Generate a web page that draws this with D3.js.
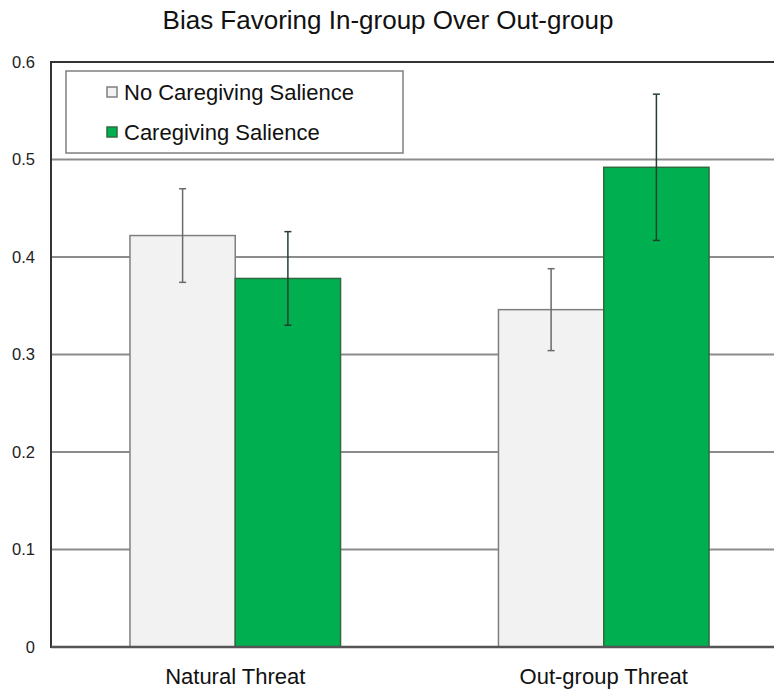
<!DOCTYPE html>
<html>
<head>
<meta charset="utf-8">
<script src="https://cdn.jsdelivr.net/npm/d3@7"></script>
<style>
  body { margin: 0; background: #fff; }
  svg { display: block; font-family: "Liberation Sans", Arial, sans-serif; }
</style>
</head>
<body>
<div id="chartwrap"></div>
<script>
const WIDTH = 774;
const HEIGHT = 690;

const categories = ['Natural Threat', 'Out-group Threat'];
const groups = ['No Caregiving Salience', 'Caregiving Salience'];
const noCare = [0.422, 0.346];
const noCareErr = [0.048, 0.042];
const care = [0.378, 0.492];
const careErr = [0.048, 0.075];
const yTicks = [0, 0.1, 0.2, 0.3, 0.4, 0.5, 0.6];

const fills = ['#f2f2f2', '#00b050'];
const strokes = ['#7f7f7f', '#2f6b3f'];

const chart = { left: 51, right: 788, top: 62, bottom: 647 };

const data = categories.map((c, i) => ({
  cat: c,
  vals: [
    { g: groups[0], v: noCare[i], e: noCareErr[i] },
    { g: groups[1], v: care[i], e: careErr[i] }
  ]
}));

const xScale = d3.scaleBand()
  .domain(categories)
  .range([chart.left, chart.right])

const xInner = d3.scaleBand()
  .domain(groups)
  .range([0, xScale.bandwidth()])
  .paddingOuter(0.75)

const yScale = d3.scaleLinear()
  .domain([0, 0.6])
  .range([chart.bottom, chart.top])

const svg = d3.select('#chartwrap')
  .append('svg')
  .attr('width', WIDTH)
  .attr('height', HEIGHT)

// title
svg.append('text')
  .attr('x', 388)
  .attr('y', 29)
  .attr('text-anchor', 'middle')
  .attr('font-size', 26)
  .attr('fill', '#111')
  .text('Bias Favoring In-group Over Out-group')

// gridlines
svg.append('g')
  .selectAll('line')
  .data(yTicks.filter(d => d > 0 && d < 0.6))
  .enter()
  .append('line')
  .attr('x1', chart.left)
  .attr('x2', chart.right)
  .attr('y1', d => yScale(d))
  .attr('y2', d => yScale(d))
  .attr('stroke', '#8c8c8c')
  .attr('stroke-width', 2)

// frame
svg.append('rect')
  .attr('x', chart.left)
  .attr('y', chart.top)
  .attr('width', chart.right - chart.left)
  .attr('height', chart.bottom - chart.top)
  .attr('fill', 'none')
  .attr('stroke', '#333')
  .attr('stroke-width', 2)

const yAxis = d3.axisLeft(yScale)
  .tickValues(yTicks)
  .tickFormat(d => d === 0 ? '0' : d3.format('.1f')(d))
  .tickSize(0)
  .tickPadding(16)

svg.append('g')
  .attr('id', 'y-axis')
  .attr('transform', `translate(${chart.left},0)`)
  .call(yAxis)
  .call(g => g.select('.domain').remove())
  .call(g => g.selectAll('text')
    .attr('font-size', 16.5)
    .attr('fill', '#222')
    .attr('font-family', '"Liberation Sans", Arial, sans-serif'))

// bars
const cat = svg.selectAll('.cat')
  .data(data)
  .enter()
  .append('g')
  .attr('class', 'cat')
  .attr('transform', d => `translate(${xScale(d.cat)},0)`)

cat.selectAll('rect')
  .data(d => d.vals)
  .enter()
  .append('rect')
  .attr('x', d => xInner(d.g))
  .attr('width', xInner.bandwidth())
  .attr('y', d => yScale(d.v))
  .attr('height', d => yScale(0) - yScale(d.v))
  .attr('fill', (d, i) => fills[i])
  .attr('stroke', (d, i) => strokes[i])
  .attr('stroke-width', 1.5)

// error bars
const err = cat.selectAll('.err')
  .data(d => d.vals)
  .enter()
  .append('g')
  .attr('class', 'err')
  .attr('transform', d => `translate(${xInner(d.g) + xInner.bandwidth() / 2},0)`)
  .attr('stroke', (d, i) => i === 0 ? '#6b6b6b' : '#24402c')
  .attr('stroke-width', 1.5)

err.append('line')
  .attr('y1', d => yScale(d.v - d.e))
  .attr('y2', d => yScale(d.v + d.e))

err.selectAll('.cap')
  .data(d => [d.v - d.e, d.v + d.e])
  .enter()
  .append('line')
  .attr('x1', -3.5)
  .attr('x2', 3.5)
  .attr('y1', d => yScale(d))
  .attr('y2', d => yScale(d))

// bottom axis line
svg.append('line')
  .attr('x1', chart.left)
  .attr('x2', chart.right)
  .attr('y1', yScale(0))
  .attr('y2', yScale(0))
  .attr('stroke', '#555')
  .attr('stroke-width', 2.5)

const xAxis = d3.axisBottom(xScale)
  .tickSize(0)
  .tickPadding(21)

svg.append('g')
  .attr('id', 'x-axis')
  .attr('transform', `translate(0,${chart.bottom})`)
  .call(xAxis)
  .call(g => g.select('.domain').remove())
  .call(g => g.selectAll('text')
    .attr('font-size', 22)
    .attr('fill', '#111')
    .attr('font-family', '"Liberation Sans", Arial, sans-serif'))

// legend
const legend = svg.append('g')
  .attr('transform', 'translate(66,71)')

legend.append('rect')
  .attr('width', 337)
  .attr('height', 82)
  .attr('fill', '#fff')
  .attr('stroke', '#7f7f7f')
  .attr('stroke-width', 1.5)

const item = legend.selectAll('.item')
  .data(groups)
  .enter()
  .append('g')
  .attr('class', 'item')
  .attr('transform', (d, i) => `translate(41,${21 + i * 40})`)

item.append('rect')
  .attr('x', 0)
  .attr('y', -5)
  .attr('width', 10)
  .attr('height', 10)
  .attr('fill', (d, i) => fills[i])
  .attr('stroke', (d, i) => strokes[i])
  .attr('stroke-width', 1.5)

item.append('text')
  .attr('x', 17)
  .attr('y', 8)
  .attr('font-size', 22)
  .attr('fill', '#111')
  .text(d => d)
</script>
</body>
</html>
